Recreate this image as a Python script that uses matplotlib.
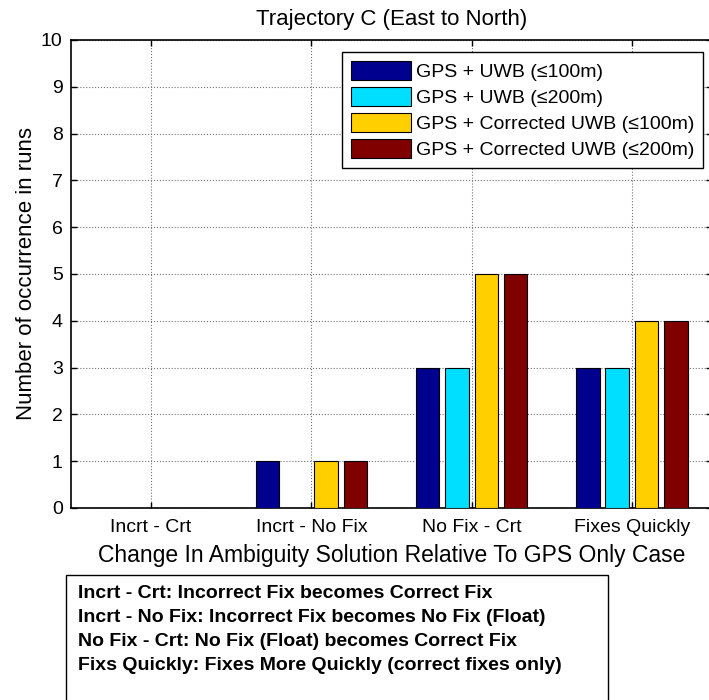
import matplotlib
matplotlib.use("Agg")
import matplotlib.pyplot as plt
from matplotlib.patches import Rectangle
import numpy as np

plt.rcParams['font.family'] = ['Liberation Sans', 'DejaVu Sans']

categories = ["Incrt - Crt", "Incrt - No Fix", "No Fix - Crt", "Fixes Quickly"]
series_names = ["GPS + UWB (\u2264100m)", "GPS + UWB (\u2264200m)",
                "GPS + Corrected UWB (\u2264100m)", "GPS + Corrected UWB (\u2264200m)"]
uwb_100 = [0, 1, 3, 3]
uwb_200 = [0, 0, 3, 3]
corr_100 = [0, 1, 5, 4]
corr_200 = [0, 1, 5, 4]
colors = ["#00008F", "#00DFFF", "#FFCF00", "#800000"]
notes = [
    "Incrt - Crt: Incorrect Fix becomes Correct Fix",
    "Incrt - No Fix: Incorrect Fix becomes No Fix (Float)",
    "No Fix - Crt: No Fix (Float) becomes Correct Fix",
    "Fixs Quickly: Fixes More Quickly (correct fixes only)",
]

W, H = 709, 700
fig = plt.figure(figsize=(W / 100, H / 100), dpi=100)
# axes in pixel terms: left 71, right ~712 (just off the figure), top 40, bottom 508
ax = fig.add_axes([71 / W, 1 - 508 / H, (712 - 71) / W, (508 - 40) / H])

x = np.arange(1, len(categories) + 1)
offsets = [-0.275, -0.092, 0.092, 0.275]
width = 0.146
for vals, off, col, name in zip([uwb_100, uwb_200, corr_100, corr_200],
                                offsets, colors, series_names):
    ax.bar(x + off, vals, width, color=col, edgecolor='black', linewidth=0.8,
           label=name, zorder=3)

ax.set_xlim(0.5, 4.5)
ax.set_ylim(0, 10)
ax.set_xticks(x)
ax.set_xticklabels(categories, fontsize=14)
ax.set_yticks(range(0, 11))
ax.tick_params(axis='y', labelsize=14, pad=6)
ax.tick_params(axis='x', pad=8)
ax.tick_params(direction='in', length=4, width=1, top=True, right=True)
ax.grid(True, linestyle=':', color='0.45', linewidth=0.8, zorder=0)
for s in ax.spines.values():
    s.set_linewidth(1.2)

ax.set_title("Trajectory C (East to North)", fontsize=16, pad=11)
ax.set_xlabel("Change In Ambiguity Solution Relative To GPS Only Case", fontsize=16.5, labelpad=6)
ax.set_ylabel("Number of occurrence in runs", fontsize=16, labelpad=3)

leg = ax.legend(loc='upper right', bbox_to_anchor=(0.986, 0.974), borderaxespad=0,
                fontsize=14, fancybox=False, framealpha=1, edgecolor='black',
                handlelength=3.1, handleheight=1.15, handletextpad=0.25,
                labelspacing=0.3, borderpad=0.45)
leg.get_frame().set_linewidth(1.0)

# note box below the axes
fig.patches.append(Rectangle((66 / W, -0.05), (608 - 66) / W, 0.05 + 1 - 575 / H,
                             transform=fig.transFigure, facecolor='white',
                             edgecolor='black', linewidth=1.0))
for i, line in enumerate(notes):
    fig.text(78 / W, 1 - (593 + 24 * i) / H, line, fontsize=14, fontweight='bold',
             va='center', ha='left')

fig.savefig("out.png", dpi=100)
